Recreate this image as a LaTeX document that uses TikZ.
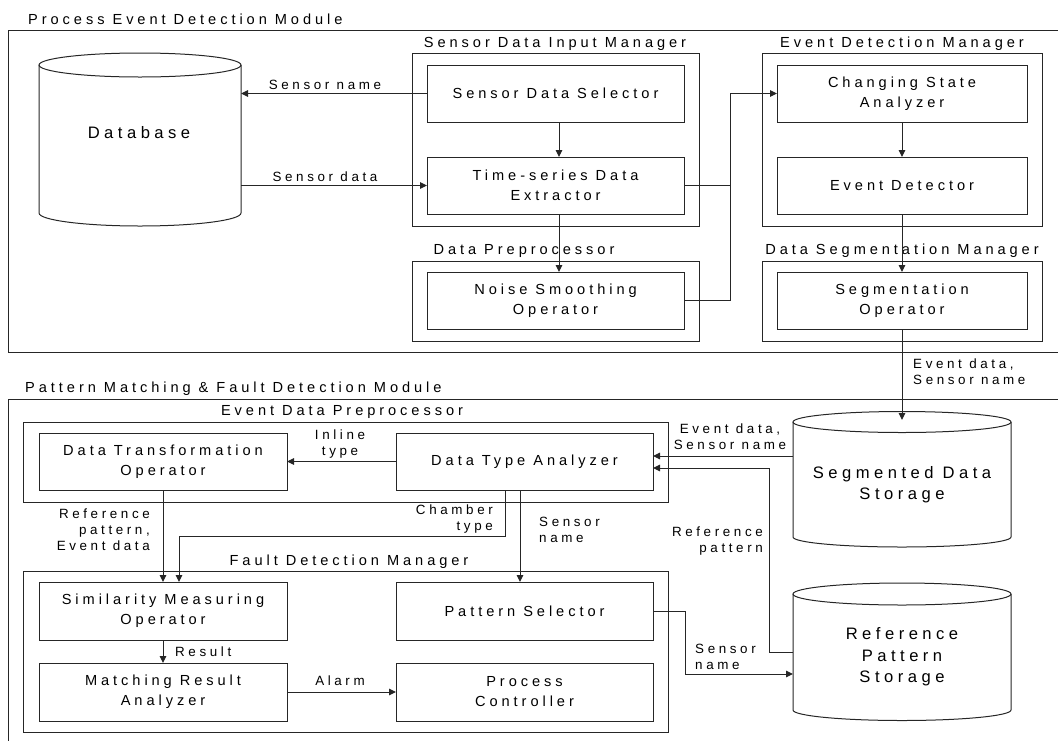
\documentclass[tikz,border=0pt]{standalone}
\usepackage{fontspec}
\setmainfont{Liberation Sans}[LetterSpace=27]
\usetikzlibrary{arrows.meta,calc,fit}

\tikzset{
  line/.style={draw=black!85, line width=1pt},
  arr/.style={line, -{Triangle[length=7pt,width=6.5pt]}},
  blk/.style={line, rectangle, inner sep=0pt, outer sep=0pt, align=center,
    minimum width=257pt, minimum height=57pt, font=\fontsize{14.6}{20}\selectfont},
  blknarrow/.style={blk, minimum width=248pt},
  grp/.style={line, rectangle, inner sep=0pt, outer sep=0pt},
  grptitle/.style={inner sep=0pt, anchor=base, font=\fontsize{14.6}{17}\selectfont},
  lbl/.style={inner sep=0pt, font=\fontsize{13.4}{16}\selectfont},
  drum/.style={rectangle, inner sep=0pt, outer sep=0pt},
  drumtext/.style={inner sep=0pt, align=center, font=\fontsize{16.6}{21.5}\selectfont},
}

% outline of a storage drum drawn round a body node: node, x radius, top and bottom y radius
\newcommand\drumoutline[4]{%
  \draw[line] (#1.north) ellipse[x radius=#2pt, y radius=#3pt];
  \draw[line] (#1.north west) -- (#1.south west)
    arc[start angle=180, end angle=360, x radius=#2pt, y radius=#4pt] -- (#1.north east);
}

\begin{document}
\begin{tikzpicture}[x=1pt,y=-1pt]
\useasboundingbox (0,0) rectangle (1058,740);

% module frames, running off the page on the right and at the bottom
\begin{scope}
  \clip (0,0) rectangle (1058,740);
  \node[grp, fit={(8,30) (1075,352)}] (pedm) {};
  \node[grp, fit={(8,399) (1075,760)}] (pmfd) {};
\end{scope}
\node[grptitle, anchor=base west] (pedmt) at (28,24) {Process Event Detection Module};
\node[grptitle, anchor=base west] (pmfdt) at (25,392) {Pattern Matching \& Fault Detection Module};

% manager frames
\node[grp, fit={(412,53) (699,226)}] (sdim) {};
\node[grptitle] (sdimt) at (555,47) {Sensor Data Input Manager};
\node[grp, fit={(412,261) (699,341)}] (dpre) {};
\node[grptitle] (dpret) at (524,254) {Data Preprocessor};
\node[grp, fit={(762,53) (1042,226)}] (edm) {};
\node[grptitle] (edmt) at (902,47) {Event Detection Manager};
\node[grp, fit={(762,261) (1042,341)}] (dsm) {};
\node[grptitle] (dsmt) at (902,254) {Data Segmentation Manager};
\node[grp, fit={(23,422) (668,502)}] (edp) {};
\node[grptitle] (edpt) at (342,415) {Event Data Preprocessor};
\node[grp, fit={(23,571) (668,732)}] (fdm) {};
\node[grptitle] (fdmt) at (349,565) {Fault Detection Manager};

% process event detection blocks
\node[blk] (sel) at (555.5,93.5) {Sensor Data Selector};
\node[blk] (ext) at (555.5,185.5) {Time-series Data\\Extractor};
\node[blk] (noise) at (555.5,300.5) {Noise Smoothing\\Operator};
\node[blk, minimum width=250pt] (csa) at (902,93.5) {Changing State\\Analyzer};
\node[blk, minimum width=250pt] (ed) at (902,185.5) {Event Detector};
\node[blk, minimum width=250pt] (seg) at (902,300.5) {Segmentation\\Operator};

% pattern matching and fault detection blocks
\node[blknarrow] (dto) at (163,461.5) {Data Transformation\\Operator};
\node[blk] (dta) at (524.5,461.5) {Data Type Analyzer};
\node[blknarrow, minimum height=58pt] (smo) at (163,611) {Similarity Measuring\\Operator};
\node[blknarrow, minimum height=58pt] (mra) at (163,692) {Matching Result\\Analyzer};
\node[blk, minimum height=58pt] (ps) at (524.5,611) {Pattern Selector};
\node[blk, minimum height=58pt] (pc) at (524.5,692) {Process\\Controller};

% storage drums
\node[drum, minimum width=202pt, minimum height=148pt] (db) at (140,139) {};
\drumoutline{db}{101}{12}{13}
\node[drumtext] (dbt) at (139,133) {Database};
\node[drum, minimum width=218pt, minimum height=115pt] (sds) at (902,479.5) {};
\drumoutline{sds}{109}{10.5}{10}
\node[drumtext] (sdst) at (902,484.5) {Segmented Data\\Storage};
\node[drum, minimum width=218pt, minimum height=116pt] (rps) at (902,652) {};
\drumoutline{rps}{109}{11}{10.5}
\node[drumtext] (rpst) at (902,657) {Reference\\Pattern\\Storage};

% connectors: process event detection
\draw[arr] (sel.west) -- (sel.west -| db.east);
\draw[arr] (ext.west -| db.east) -- (ext.west);
\draw[arr] ([xshift=3.5pt]sel.south) -- ([xshift=3.5pt]ext.north);
\draw[arr] ([xshift=3.5pt]ext.south) -- ([xshift=3.5pt]noise.north);
\coordinate (join) at (730,93.5);
\draw[arr] (ext.east) -| (join) -- (csa.west);
\draw[line] (noise.east) -| (join);
\draw[arr] (csa.south) -- (ed.north);
\draw[arr] (ed.south) -- (seg.north);
\draw[arr] (seg.south) -- ([yshift=2pt]sds.north);

% connectors: pattern matching and fault detection
\coordinate (dtaA) at ([yshift=5.5pt]dta.east);
\coordinate (dtaB) at ([yshift=-6.5pt]dta.east);
\draw[arr] (dtaA -| sds.west) -- (dtaA);
\draw[arr] (rps.west) -- ++(-24,0) |- (dtaB);
\draw[arr] (ps.east) -- ++(32,0) |- ([yshift=-22pt]rps.west);
\draw[arr] (dta.west) -- (dto.east);
\draw[arr] (dto.south) -- (smo.north);
\draw[arr] ([xshift=-19.5pt]dta.south) -- ++(0,46) -| ([xshift=16pt]smo.north);
\draw[arr] ([xshift=-4.5pt]dta.south) -- ([xshift=-4.5pt]ps.north);
\draw[arr] (smo.south) -- (mra.north);
\draw[arr] (mra.east) -- (pc.west);

% connector labels
\node[lbl] (lsn) at (325,85) {Sensor name};
\node[lbl] (lsd) at (325,177) {Sensor data};
\node[lbl, anchor=west, align=left] (lev) at (913,372) {Event data,\\Sensor name};
\node[lbl, align=center] (lin) at (340,444) {Inline\\type};
\node[lbl, align=center] (les) at (730,437) {Event data,\\Sensor name};
\node[lbl, anchor=east, align=right] (lrp) at (150,530) {Reference\\pattern,\\Event data};
\node[lbl, anchor=east, align=right] (lch) at (493,519) {Chamber\\type};
\node[lbl, anchor=west, align=left] (lsn2) at (539,530) {Sensor\\name};
\node[lbl, anchor=east, align=right] (lrp2) at (763,541) {Reference\\pattern};
\node[lbl, anchor=west] (lres) at (175,652) {Result};
\node[lbl] (lal) at (340,681) {Alarm};
\node[lbl, anchor=west, align=left] (lsn3) at (695,657) {Sensor\\name};
\end{tikzpicture}
\end{document}
